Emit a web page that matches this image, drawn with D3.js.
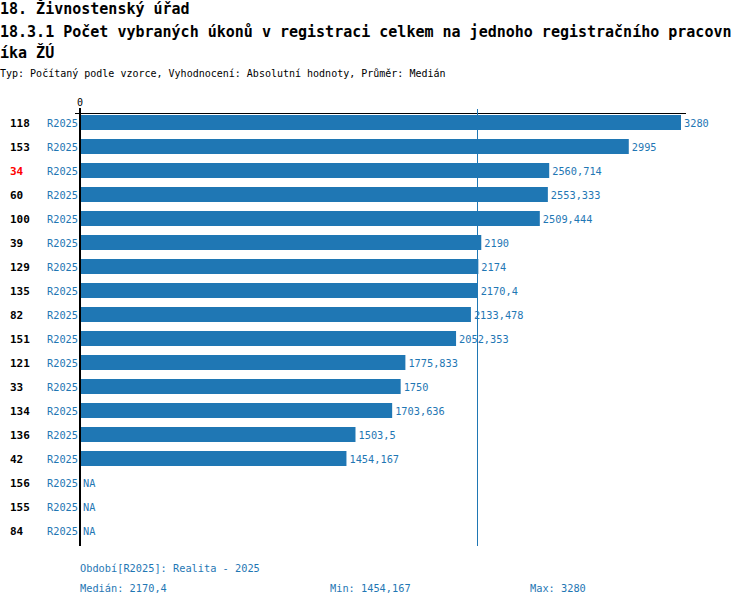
<!DOCTYPE html>
<html>
<head>
<meta charset="utf-8">
<script src="https://cdn.jsdelivr.net/npm/d3@7"></script>
<style>
  body { margin: 0; background: #fff; }
  text { font-family: "DejaVu Sans Mono", monospace; }
  line { shape-rendering: crispEdges; }
</style>
</head>
<body>
<svg id="chart" width="750" height="606"></svg>
<script>
// data
var ids = ["118","153","34","60","100","39","129","135","82","151","121","33","134","136","42","156","155","84"]
var values = [3280, 2995, 2560.714, 2553.333, 2509.444, 2190, 2174, 2170.4, 2133.478, 2052.353, 1775.833, 1750, 1703.636, 1503.5, 1454.167, null, null, null]
var period = "R2025"
var highlight = "34"
var median = 2170.4
var minVal = 1454.167
var maxVal = 3280

var title1 = "18. Živnostenský úřad"
var title2 = "18.3.1 Počet vybraných úkonů v registraci celkem na jednoho registračního pracovníka ŽÚ"
var subtitle = "Typ: Počítaný podle vzorce, Vyhodnocení: Absolutní hodnoty, Průměr: Medián"

var blue = "#1f77b4"
var fmt = function(v){ return v == null ? "NA" : String(v).replace(".", ",") }

var svg = d3.select("#chart")

// header
svg.append("text").attr("x", 0).attr("y", 14)
  .style("font-size", "15px").style("font-weight", "bold").text(title1)
var lineLen = 81
svg.append("text").attr("x", 0).attr("y", 37)
  .style("font-size", "15px").style("font-weight", "bold").text(title2.slice(0, lineLen))
svg.append("text").attr("x", 0).attr("y", 58)
  .style("font-size", "15px").style("font-weight", "bold").text(title2.slice(lineLen))
svg.append("text").attr("x", 0).attr("y", 77)
  .style("font-size", "10px").text(subtitle)

// scales
var x = d3.scaleLinear().domain([0, maxVal]).range([80, 681])
var y = d3.scaleBand().domain(ids).range([110.5, 542.5]).paddingInner(0.375).paddingOuter(0.1875)

// top line + zero tick
svg.append("line").attr("x1", 75).attr("x2", 686).attr("y1", 113.5).attr("y2", 113.5)
  .attr("stroke", "#000").attr("stroke-width", 1.5)
svg.append("text").attr("x", x(0)).attr("y", 106).attr("text-anchor", "middle")
  .style("font-size", "10px").text("0")

// bars
svg.selectAll("rect.bar")
  .data(ids)
  .enter()
  .append("rect")
    .attr("class", "bar")
    .attr("x", x(0))
    .attr("y", function(d){ return y(d) })
    .attr("width", function(d,i){ return values[i] == null ? 0 : x(values[i]) - x(0) })
    .attr("height", y.bandwidth())
    .style("fill", blue)

// median line
var mx = Math.round(x(median)) - 0.5
svg.append("line").attr("x1", mx).attr("x2", mx).attr("y1", 109).attr("y2", 546)
  .attr("stroke", blue).attr("stroke-width", 1)

// axis line
svg.append("line").attr("x1", x(0)).attr("x2", x(0)).attr("y1", 108).attr("y2", 546)
  .attr("stroke", "#000").attr("stroke-width", 2)

// row ids
svg.selectAll("text.id")
  .data(ids)
  .enter()
  .append("text")
    .attr("x", 10)
    .attr("y", function(d){ return y(d) + y.bandwidth()/2 + 4 })
    .style("font-size", "11px").style("font-weight", "bold")
    .style("fill", function(d){ return d == highlight ? "red" : "#000" })
    .text(function(d){ return d })

// period labels
svg.selectAll("text.per")
  .data(ids)
  .enter()
  .append("text")
    .attr("x", 78)
    .attr("y", function(d){ return y(d) + y.bandwidth()/2 + 4 })
    .attr("text-anchor", "end")
    .style("font-size", "10.3px")
    .style("fill", blue)
    .text(period)

// value labels
svg.selectAll("text.val")
  .data(ids)
  .enter()
  .append("text")
    .attr("x", function(d,i){ return (values[i] == null ? x(0) : x(values[i])) + 3 })
    .attr("y", function(d){ return y(d) + y.bandwidth()/2 + 4 })
    .style("font-size", "10.3px")
    .style("fill", blue)
    .text(function(d,i){ return fmt(values[i]) })

// footer
svg.append("text").attr("x", 80).attr("y", 572).style("font-size", "10.3px").style("fill", blue)
  .text("Období[" + period + "]: Realita - 2025")
svg.append("text").attr("x", 80).attr("y", 592).style("font-size", "10.3px").style("fill", blue)
  .text("Medián: " + fmt(median))
svg.append("text").attr("x", 330).attr("y", 592).style("font-size", "10.3px").style("fill", blue)
  .text("Min: " + fmt(minVal))
svg.append("text").attr("x", 530).attr("y", 592).style("font-size", "10.3px").style("fill", blue)
  .text("Max: " + fmt(maxVal))
</script>
</body>
</html>
